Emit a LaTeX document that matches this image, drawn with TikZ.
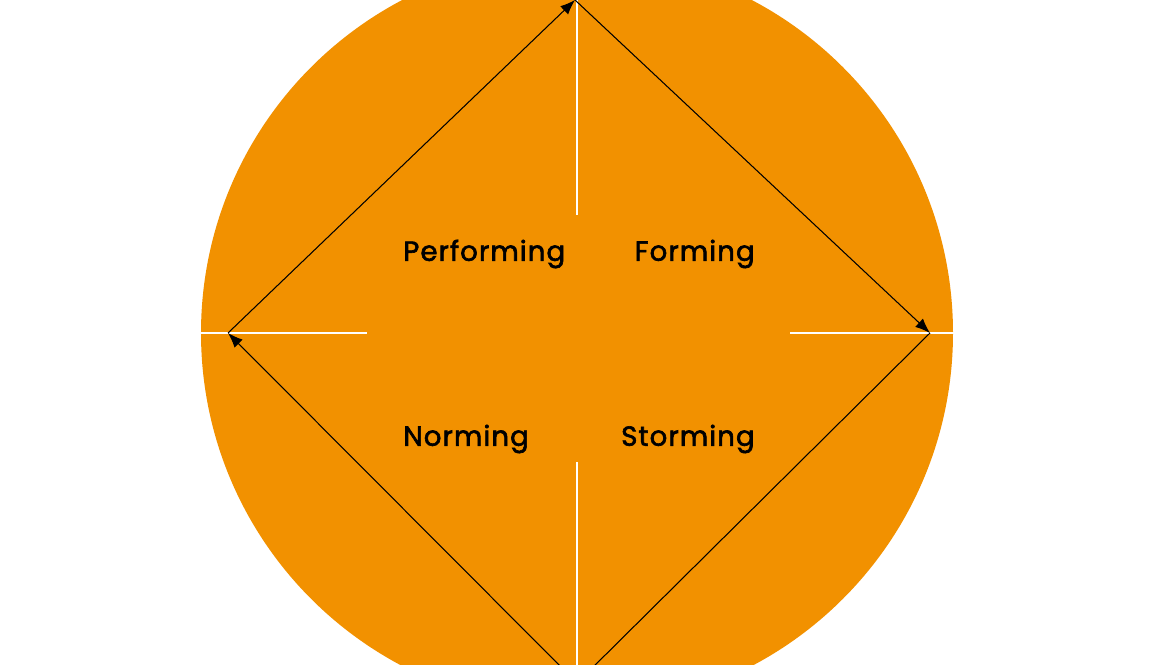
\documentclass[tikz,border=0pt]{standalone}
\usepackage{fontspec}
\newfontfamily\stagefont{Poppins}[FakeBold=2.2,LetterSpace=4]
\usetikzlibrary{arrows.meta}
\definecolor{stageorange}{HTML}{F29100}

\begin{document}
\begin{tikzpicture}[
    x=0.02cm, y=-0.02cm,
    >={Latex[length=8.5pt,width=6.5pt]},
    every node/.style={font=\stagefont\fontsize{15.7}{17}\selectfont},
    divider/.style={white,line width=1.6pt},
    cycle/.style={->,line width=0.6pt,color=black},
    stagelabel/.style={text=black,inner sep=0pt},
]

% === Canvas ===
\useasboundingbox (0,0) rectangle (1160,665);
\clip (0,0) rectangle (1160,665);

% === Disc ===
\fill[stageorange] (577,333) circle[radius=376*0.02cm];

% === Dividers ===
\coordinate (ctop) at (577,-50);
\coordinate (cbot) at (577,720);
\coordinate (cleft) at (190,333);
\coordinate (cright) at (965,333);
\coordinate (itop) at (577,215);
\coordinate (ibot) at (577,462);
\coordinate (ileft) at (367,333);
\coordinate (iright) at (790,333);

\draw[divider] (ctop) -- (itop);
\draw[divider] (ibot) -- (cbot);
\draw[divider] (cleft) -- (ileft);
\draw[divider] (iright) -- (cright);

% === Stage labels ===
\node[stagelabel,anchor=west] (performing) at (403,254) {Performing};
\node[stagelabel,anchor=east] (forming) at (755,254) {Forming};
\node[stagelabel,anchor=west] (norming) at (403,439) {Norming};
\node[stagelabel,anchor=east] (storming) at (755,439) {Storming};

% === Cycle ===
\coordinate (top) at (575,0);
\coordinate (right) at (930,333);
\coordinate (bottom) at (577,683);
\coordinate (left) at (228,333);

\draw[cycle] (top) -- (right);
\draw[cycle] (right) -- (bottom);
\draw[cycle] (bottom) -- (left);
\draw[cycle] (left) -- (top);

\end{tikzpicture}
\end{document}
